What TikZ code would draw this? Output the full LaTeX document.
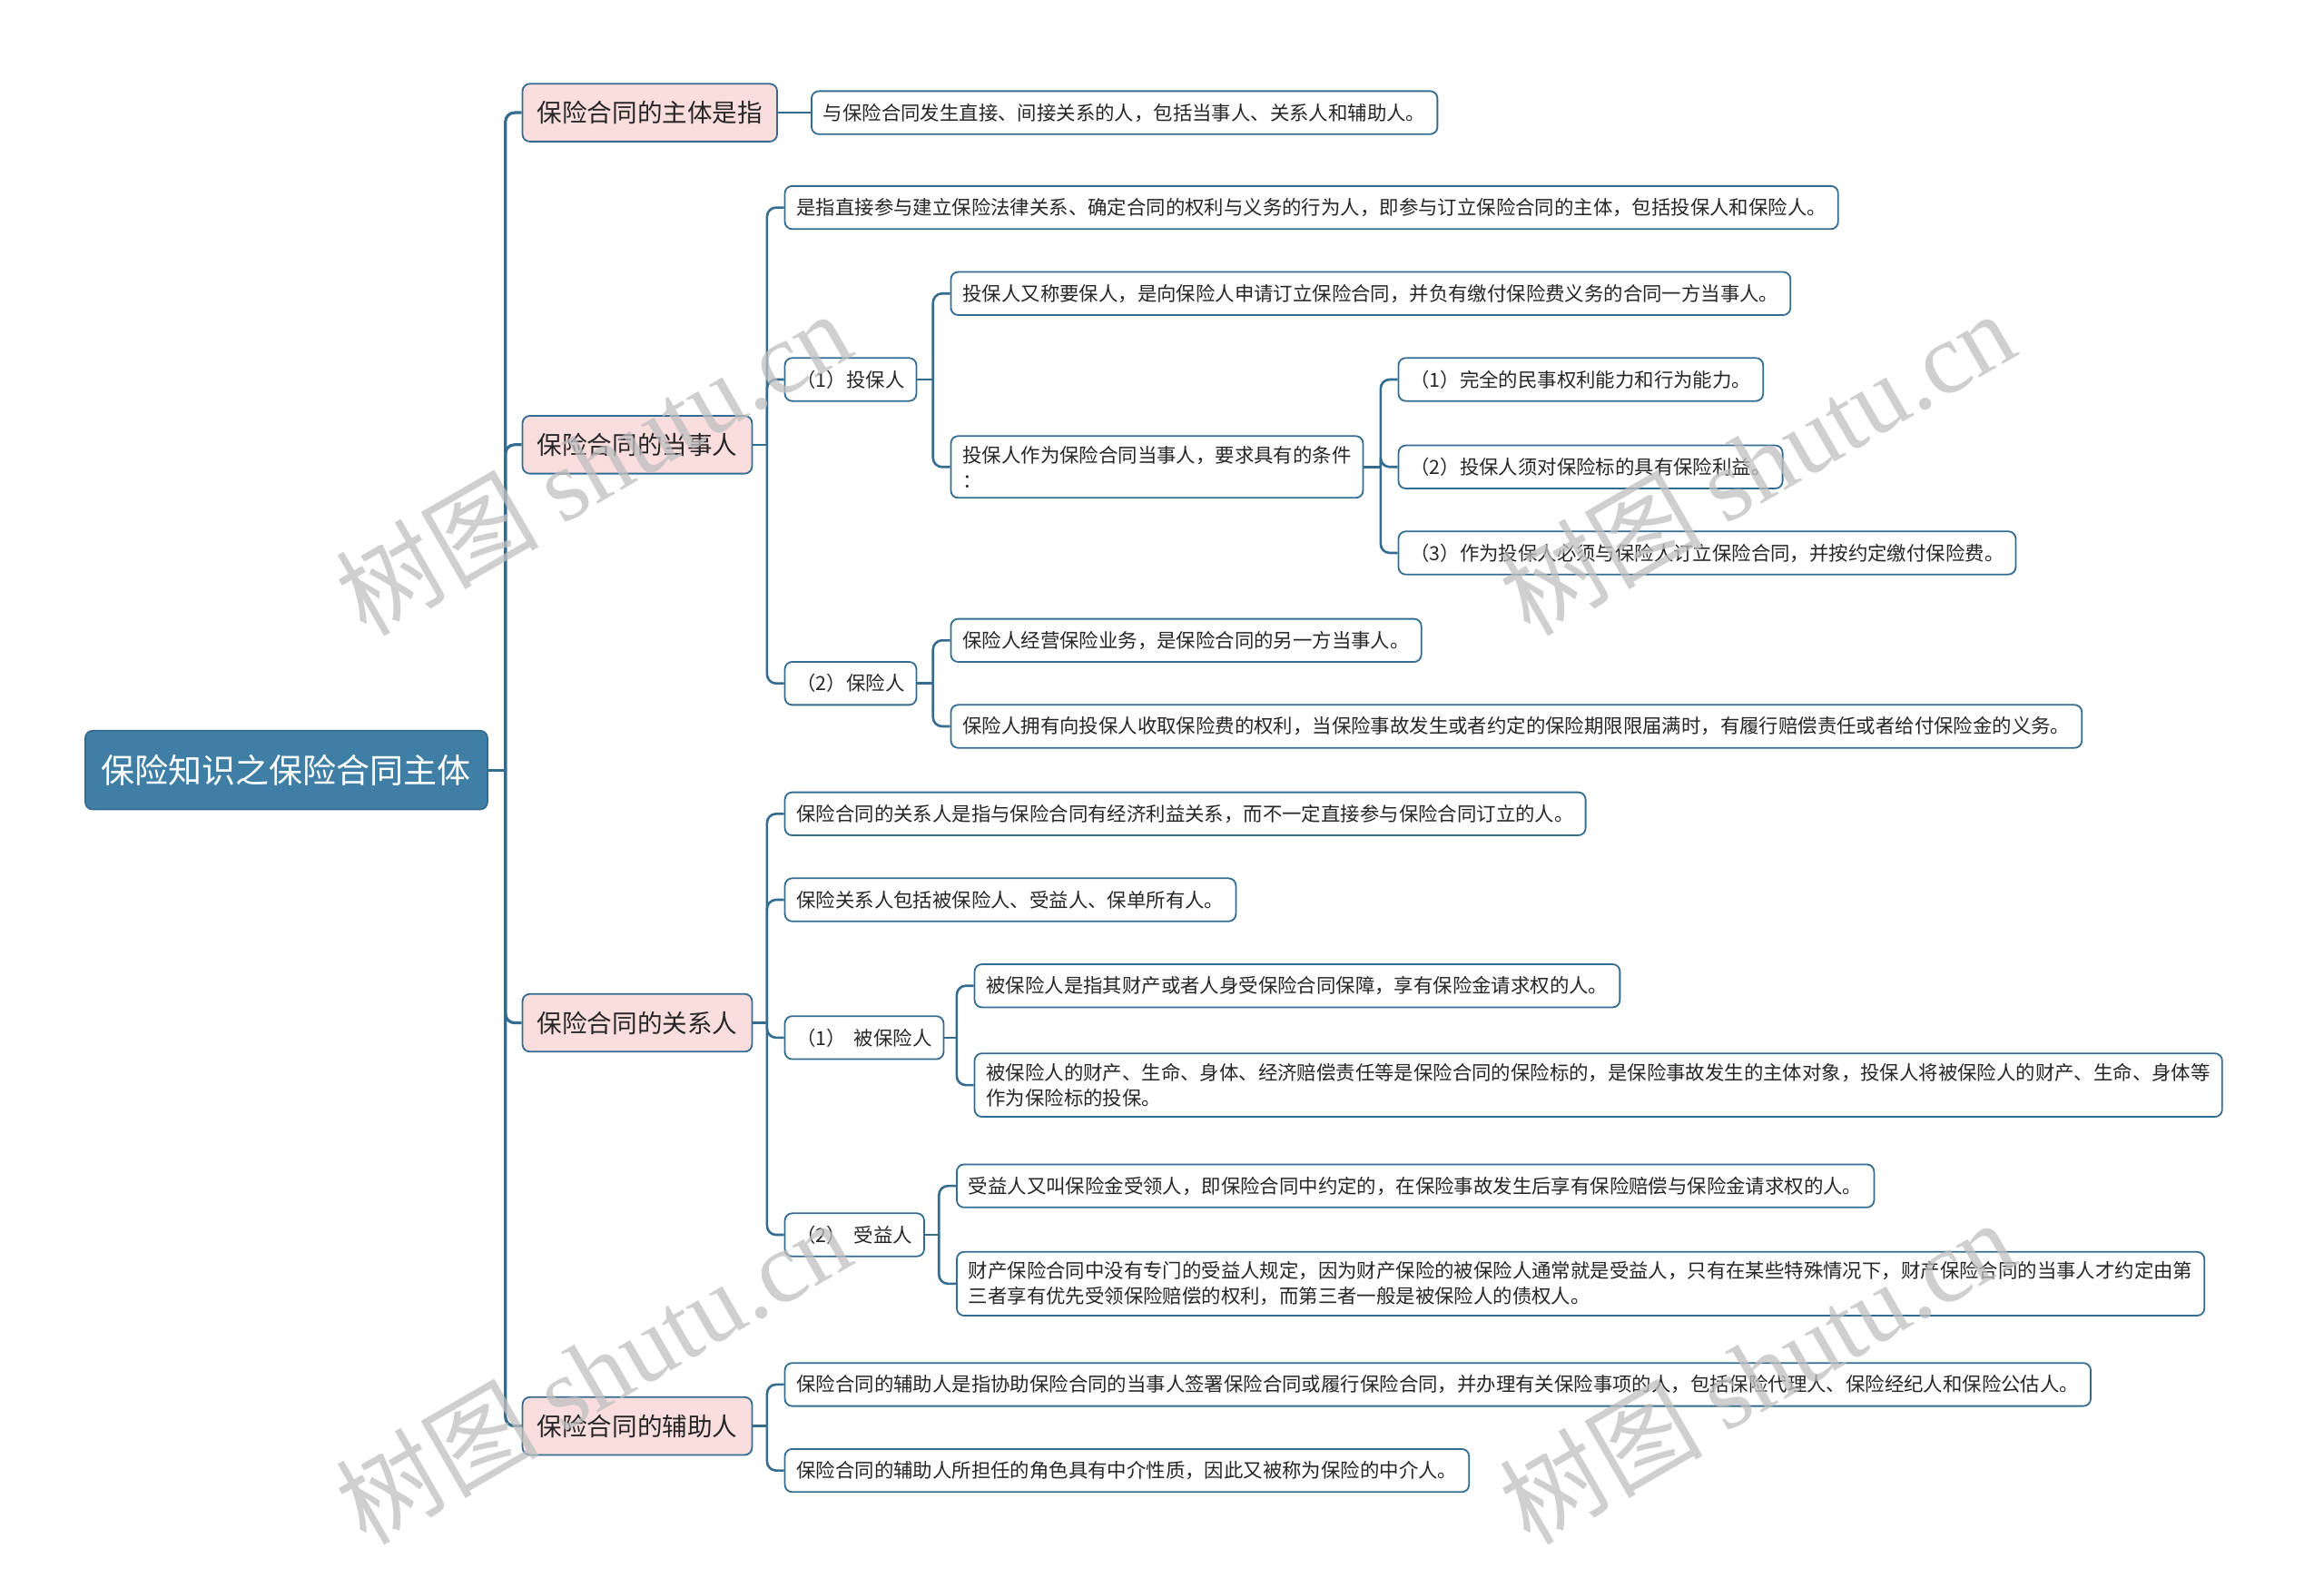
\documentclass[tikz,border=0pt]{standalone}
\usepackage{fontspec}
\setmainfont{Noto Sans CJK SC}
\newfontfamily\wmfont{Liberation Serif}
\usepackage{tikz}
\usepackage{xcolor}
\usetikzlibrary{positioning,calc}
\definecolor{linkblue}{RGB}{52,108,145}
\definecolor{rootblue}{RGB}{64,127,165}
\definecolor{subpink}{RGB}{250,221,221}
\newcommand{\wmark}{树图 {\wmfont shutu.cn}}

\begin{document}
\begin{tikzpicture}[
  x=0.8163pt, y=-0.8163pt,
  every node/.style={text=black!85},
  root/.style={draw=linkblue,fill=rootblue,text=white,rounded corners=4pt,line width=0.9pt,
    anchor=west,inner xsep=9pt,inner ysep=0pt,minimum height=43.3pt,
    font=\fontsize{18.5pt}{22pt}\selectfont},
  sub/.style={draw=linkblue,fill=subpink,rounded corners=4pt,line width=0.9pt,
    anchor=west,inner xsep=8pt,inner ysep=0pt,minimum height=31.8pt,
    font=\fontsize{13.8pt}{16pt}\selectfont},
  leaf/.style={draw=linkblue,fill=white,rounded corners=4pt,line width=0.9pt,
    anchor=west,inner xsep=6.5pt,inner ysep=5.5pt,minimum height=23.7pt,align=left,
    font=\fontsize{10.7pt}{13.9pt}\selectfont},
  tr/.style={draw=linkblue,line width=1.6pt},
  ln/.style={draw=linkblue,line width=1.3pt},
  wm/.style={rotate=30,text=black!25,text opacity=0.75,font=\fontsize{56pt}{60pt}\selectfont}
]
\useasboundingbox (0,0) rectangle (1568,1064);

% root and first level
\node[root] (main) at (57,519.5) {保险知识之保险合同主体};
\node[sub] (a) at (352,76) {保险合同的主体是指};
\node[sub] (b) at (352,300) {保险合同的当事人};
\node[sub] (c) at (352,690) {保险合同的关系人};
\node[sub] (d) at (352,962) {保险合同的辅助人};

% subject
\node[leaf] (a1) at (547,76) {与保险合同发生直接、间接关系的人，包括当事人、关系人和辅助人。};

% parties
\node[leaf] (b1) at (529,140) {是指直接参与建立保险法律关系、确定合同的权利与义务的行为人，即参与订立保险合同的主体，包括投保人和保险人。};
\node[leaf] (b2) at (529,256) {（1）投保人};
\node[leaf] (b3) at (529,461) {（2）保险人};
\node[leaf] (b21) at (641,198) {投保人又称要保人，是向保险人申请订立保险合同，并负有缴付保险费义务的合同一方当事人。};
\node[leaf] (b22) at (641,315) {投保人作为保险合同当事人，要求具有的条件\\：};
\node[leaf] (b221) at (943,256) {（1）完全的民事权利能力和行为能力。};
\node[leaf] (b222) at (943,315) {（2）投保人须对保险标的具有保险利益。};
\node[leaf] (b223) at (943,373) {（3）作为投保人必须与保险人订立保险合同，并按约定缴付保险费。};
\node[leaf] (b31) at (641,432) {保险人经营保险业务，是保险合同的另一方当事人。};
\node[leaf] (b32) at (641,490) {保险人拥有向投保人收取保险费的权利，当保险事故发生或者约定的保险期限限届满时，有履行赔偿责任或者给付保险金的义务。};

% related persons
\node[leaf] (c1) at (529,549) {保险合同的关系人是指与保险合同有经济利益关系，而不一定直接参与保险合同订立的人。};
\node[leaf] (c2) at (529,607) {保险关系人包括被保险人、受益人、保单所有人。};
\node[leaf] (c3) at (529,700) {（1）\hspace{0.4em}被保险人};
\node[leaf] (c4) at (529,833) {（2）\hspace{0.4em}受益人};
\node[leaf] (c31) at (657,665) {被保险人是指其财产或者人身受保险合同保障，享有保险金请求权的人。};
\node[leaf] (c32) at (657,732) {被保险人的财产、生命、身体、经济赔偿责任等是保险合同的保险标的，是保险事故发生的主体对象，投保人将被保险人的财产、生命、身体等\\作为保险标的投保。};
\node[leaf] (c41) at (645,800) {受益人又叫保险金受领人，即保险合同中约定的，在保险事故发生后享有保险赔偿与保险金请求权的人。};
\node[leaf] (c42) at (645,866) {财产保险合同中没有专门的受益人规定，因为财产保险的被保险人通常就是受益人，只有在某些特殊情况下，财产保险合同的当事人才约定由第\\三者享有优先受领保险赔偿的权利，而第三者一般是被保险人的债权人。};

% auxiliaries
\node[leaf] (d1) at (529,934) {保险合同的辅助人是指协助保险合同的当事人签署保险合同或履行保险合同，并办理有关保险事项的人，包括保险代理人、保险经纪人和保险公估人。};
\node[leaf] (d2) at (529,992) {保险合同的辅助人所担任的角色具有中介性质，因此又被称为保险的中介人。};

% connectors
\coordinate (mj) at ($(main.east -| a.west)+(-11,0)$);
\draw[tr] (main.east) -- (mj);
\foreach \c in {a,b,c,d} \draw[tr,rounded corners=5pt] (mj) |- (\c.west);
\draw[ln] (a.east) -- (a1.west);
\foreach \p/\q/\kids in {b/b1/{b1,b2,b3}, b2/b21/{b21,b22}, b22/b221/{b221,b222,b223},
    b3/b31/{b31,b32}, c/c1/{c1,c2,c3,c4}, c3/c31/{c31,c32}, c4/c41/{c41,c42}, d/d1/{d1,d2}} {
  \coordinate (\p j) at ($(\p.east -| \q.west)+(-11.5,0)$);
  \draw[ln] (\p.east) -- (\p j);
  \foreach \k in \kids \draw[ln,rounded corners=5pt] (\p j) |- (\k.west);
}

% watermark
\node[wm] (wm1) at (400,312) {\wmark};
\node[wm] (wm2) at (1185,312) {\wmark};
\node[wm] (wm3) at (400,925) {\wmark};
\node[wm] (wm4) at (1185,925) {\wmark};
\end{tikzpicture}
\end{document}
